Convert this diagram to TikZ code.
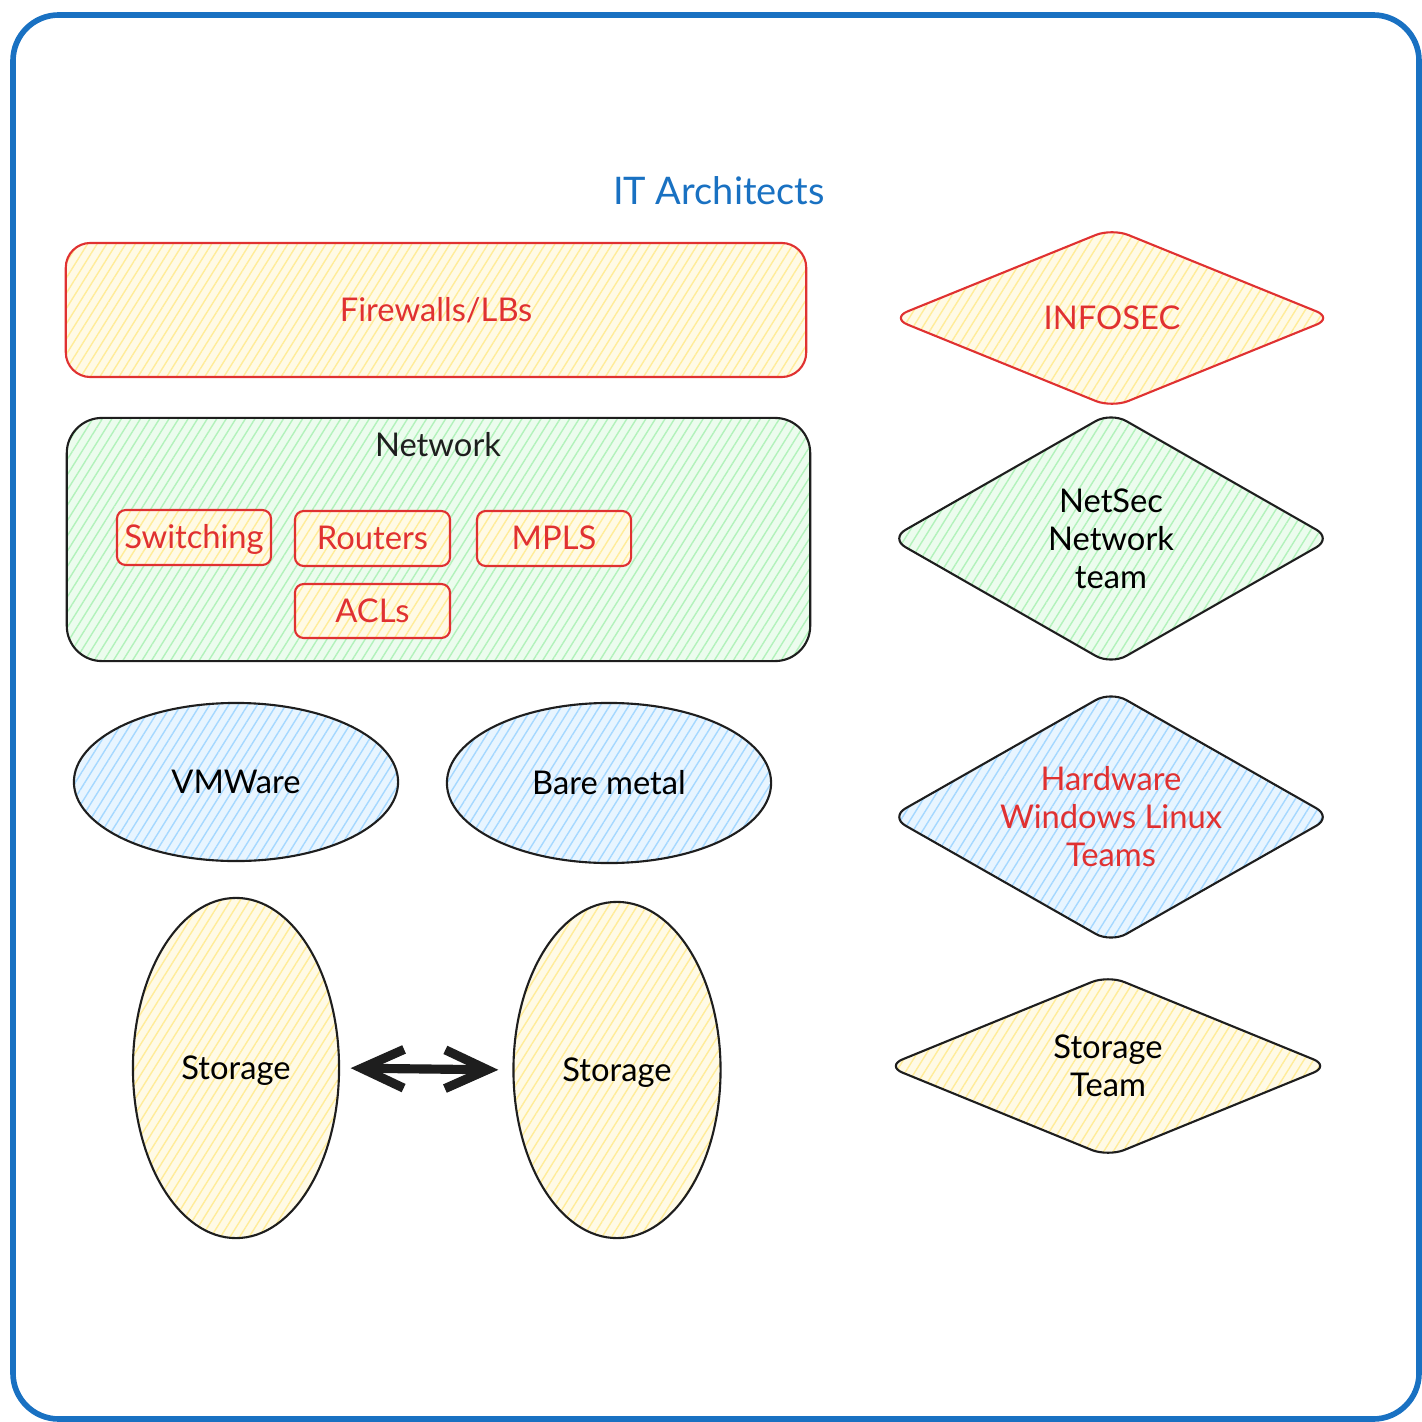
\documentclass[tikz,border=0pt]{standalone}
\usepackage{fontspec}
\setmainfont{Lato}
\usetikzlibrary{shapes.geometric, arrows.meta, patterns.meta}

\definecolor{xred}{HTML}{E03131}
\definecolor{xblue}{HTML}{1971C2}
\definecolor{xink}{HTML}{1E1E1E}
\definecolor{hyellow}{HTML}{FFEC99}
\definecolor{hgreen}{HTML}{B2F2BB}
\definecolor{hblue}{HTML}{A5D8FF}

\tikzset{
  hatch/.style={preaction={fill=#1!25},
    pattern={Lines[angle=58,distance=2.3pt,line width=0.4pt]},
    pattern color=#1},
  lbl/.style={font=\fontsize{9.3}{10.8}\selectfont, align=center},
  oneline/.style={text height=7.6pt, text depth=1.2pt},
  shp/.style={draw=#1, line width=0.6pt, inner sep=0pt, lbl},
  rbox/.style={shp=#1, rectangle, oneline},
  oval/.style={shp=xink, ellipse, oneline},
  rhomb/.style={shp=#1, diamond, rounded corners=5pt},
  twoway/.style={{Straight Barb[length=12pt,width=11pt]}-{Straight Barb[length=12pt,width=11pt]},
    line width=2.6pt, draw=xink},
}

\begin{document}
\begin{tikzpicture}[x=0.01cm, y=-0.01cm]
  \useasboundingbox (0,0) rectangle (1421,1422);
  \fill[white] (0,0) rectangle (1421,1422);

  % outer frame
  \draw[xblue, line width=1.6pt, rounded corners=13pt] (13,15) rectangle (1419,1419);

  % heading
  \node[lbl, text=xblue, font=\fontsize{10.8}{13}\selectfont] (title) at (719,191) {IT Architects};

  % left column: layers
  \node[rbox=xred, hatch=hyellow, rounded corners=7pt, minimum width=7.40cm, minimum height=1.34cm,
        text=xred] (fw) at (436,310) {Firewalls/LBs};

  \node[rbox=xink, hatch=hgreen, rounded corners=10pt, minimum width=7.43cm, minimum height=2.43cm]
        (net) at (438.5,539.5) {};
  \node[lbl, oneline, text=xink] (netlbl) at (438,445) {Network};

  \node[rbox=xred, hatch=hyellow, rounded corners=2.5pt, minimum width=1.54cm, minimum height=0.55cm,
        text=xred] (sw) at (194,537.5) {Switching};
  \node[rbox=xred, hatch=hyellow, rounded corners=2.5pt, minimum width=1.55cm, minimum height=0.55cm,
        text=xred] (rt) at (372.5,538.5) {Routers};
  \node[rbox=xred, hatch=hyellow, rounded corners=2.5pt, minimum width=1.54cm, minimum height=0.55cm,
        text=xred] (mpls) at (554,538.5) {MPLS};
  \node[rbox=xred, hatch=hyellow, rounded corners=2.5pt, minimum width=1.55cm, minimum height=0.54cm,
        text=xred] (acl) at (372.5,611) {ACLs};

  \node[oval, hatch=hblue, minimum width=3.24cm, minimum height=1.58cm] (vmw) at (236,782) {VMWare};
  \node[oval, hatch=hblue, minimum width=3.24cm, minimum height=1.60cm] (bm) at (609,783) {Bare metal};

  \node[oval, hatch=hyellow, minimum width=2.06cm, minimum height=3.40cm] (stl) at (236,1068) {Storage};
  \node[oval, hatch=hyellow, minimum width=2.07cm, minimum height=3.36cm] (str) at (617,1070) {Storage};

  \draw[twoway, shorten <=3pt, shorten >=4pt] (stl.east) -- (str.west);

  % right column: teams
  \node[rhomb=xred, hatch=hyellow, aspect=2.48, minimum width=4.42cm, minimum height=1.80cm, text=xred]
        (infosec) at (1112,318) {INFOSEC};
  \node[rhomb=xink, hatch=hgreen, aspect=1.74, minimum width=4.42cm, minimum height=2.53cm]
        (netsec) at (1111,538.5) {NetSec\\Network\\team};
  \node[rhomb=xink, hatch=hblue, aspect=1.74, minimum width=4.42cm, minimum height=2.52cm, text=xred]
        (hw) at (1111,817) {Hardware\\Windows Linux\\Teams};
  \node[rhomb=xink, hatch=hyellow, aspect=2.46, minimum width=4.44cm, minimum height=1.82cm]
        (stteam) at (1108,1066) {Storage\\Team};
\end{tikzpicture}
\end{document}
